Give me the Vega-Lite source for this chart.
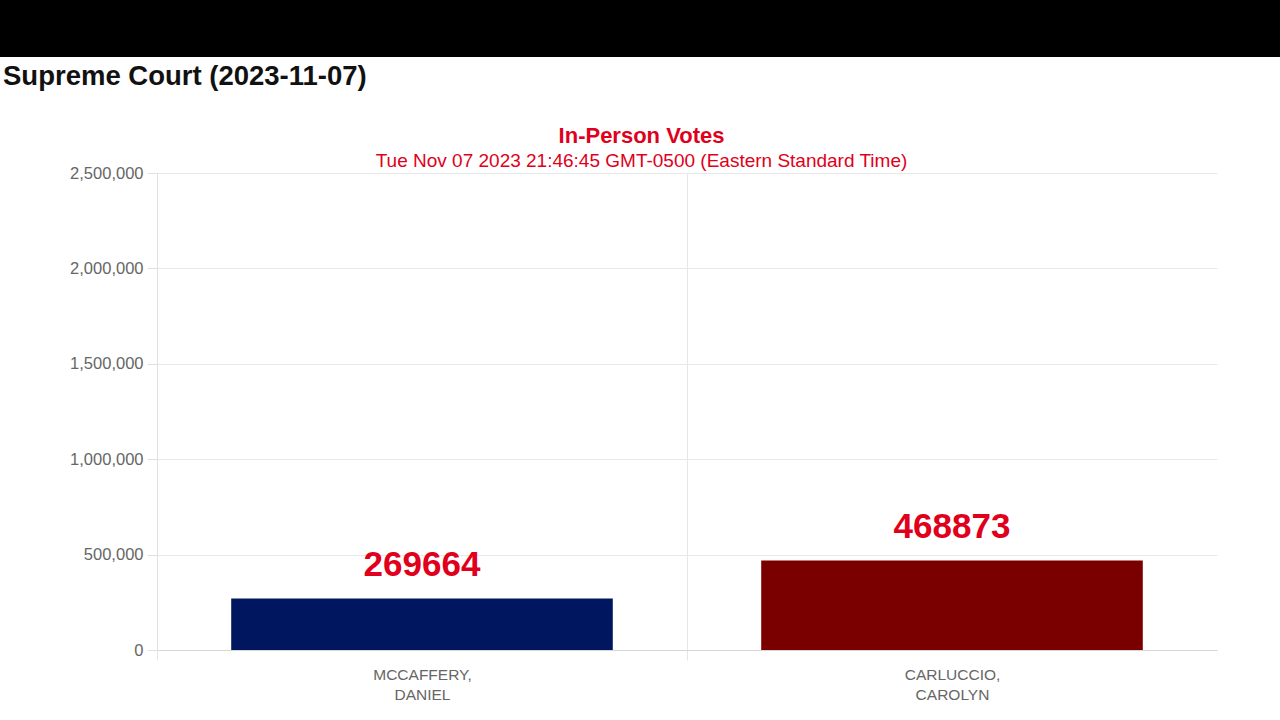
{
  "$schema": "https://vega.github.io/schema/vega-lite/v6.json",
  "background": "white",
  "padding": 0,
  "spacing": 34,
  "config": {"view": {"stroke": null}, "font": "Liberation Sans"},
  "vconcat": [
    {
      "width": 1280,
      "height": 57,
      "view": {"fill": "black", "stroke": null},
      "title": {"text": "Supreme Court (2023-11-07)", "orient": "bottom", "anchor": "start", "dx": 3, "offset": 6, "fontSize": 27.5, "fontWeight": "bold", "color": "#111111", "font": "Liberation Sans"},
      "data": {"values": [{"k": 1}]},
      "mark": {"type": "text", "text": ""},
      "encoding": {}
    },
    {
      "width": 1217,
      "height": 477,
      "title": {"text": "In-Person Votes", "subtitle": "Tue Nov 07 2023 21:46:45 GMT-0500 (Eastern Standard Time)", "color": "#e0001b", "subtitleColor": "#e0001b", "fontSize": 22, "subtitleFontSize": 19, "fontWeight": "bold", "subtitleFont": "Liberation Sans", "font": "Liberation Sans", "subtitlePadding": 4, "offset": -7, "anchor": "middle", "frame": "group", "dx": 33},
      "data": {"values": [
        {"candidate": "MCCAFFERY, DANIEL", "votes": 269664},
        {"candidate": "CARLUCCIO, CAROLYN", "votes": 468873}
      ]},
      "encoding": {
        "x": {
          "field": "candidate", "type": "nominal", "sort": null,
          "scale": {"paddingInner": 0, "paddingOuter": 0, "range": [157, 1217]},
          "axis": {
            "title": null, "labelAngle": 0,
            "labelExpr": "split(datum.label, ' ')",
            "labelFontSize": 15.5, "labelColor": "#666666", "labelLineHeight": 20, "labelPadding": 7,
            "tickBand": "extent", "tickSize": 10,
            "tickColor": {"condition": {"test": "datum.label === 'CARLUCCIO, CAROLYN'", "value": "transparent"}, "value": "#e6e6e6"},
            "grid": true,
            "gridColor": {"condition": {"test": "datum.label === 'CARLUCCIO, CAROLYN'", "value": "transparent"}, "value": "#e6e6e6"},
            "domainColor": "#d6d6d6"
          }
        },
        "y": {
          "field": "votes", "type": "quantitative",
          "scale": {"domain": [0, 2500000], "nice": false},
          "axis": {
            "title": null, "values": [0, 500000, 1000000, 1500000, 2000000, 2500000], "format": ",.0f",
            "labelFontSize": 16.5, "labelColor": "#666666", "labelPadding": 4,
            "tickSize": 10, "tickColor": "#e0e0e0", "gridColor": "#e8e8e8", "domainColor": "#e0e0e0",
            "offset": -157
          }
        }
      },
      "layer": [
        {
          "mark": {"type": "bar", "width": {"band": 0.72}},
          "encoding": {
            "color": {"field": "candidate", "type": "nominal", "sort": null, "scale": {"range": ["#001760", "#7a0000"]}, "legend": null}
          }
        },
        {
          "mark": {"type": "text", "fontSize": 35, "fontWeight": "bold", "color": "#e0001b", "baseline": "alphabetic", "dy": -23},
          "encoding": {
            "text": {"field": "votes", "type": "quantitative", "format": "d"}
          }
        }
      ]
    }
  ]
}
